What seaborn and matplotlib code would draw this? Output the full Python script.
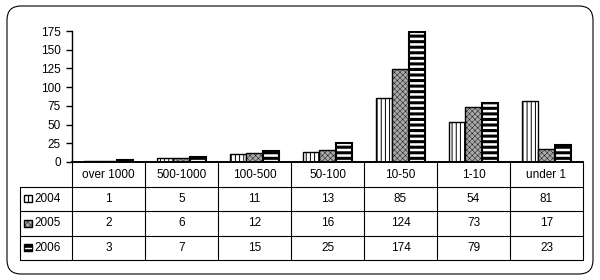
import numpy as np
import pandas as pd
import matplotlib
matplotlib.use("Agg")
import matplotlib.pyplot as plt
import seaborn as sns
from matplotlib.patches import FancyBboxPatch, Rectangle
from matplotlib.lines import Line2D

categories = ["over 1000", "500-1000", "100-500", "50-100", "10-50", "1-10", "under 1"]
years = ["2004", "2005", "2006"]
v2004 = [1, 5, 11, 13, 85, 54, 81]
v2005 = [2, 6, 12, 16, 124, 73, 17]
v2006 = [3, 7, 15, 25, 174, 79, 23]
yticks = [0, 25, 50, 75, 100, 125, 150, 175]

sns.set_theme(style="white")
plt.rcParams['font.family'] = ['Liberation Sans', 'DejaVu Sans']
plt.rcParams['font.size'] = 8.5
plt.rcParams['text.color'] = 'black'

W, H = 600, 280
fig = plt.figure(figsize=(6, 2.8), dpi=100)
fig.patch.set_facecolor("white")


def fx(px):
    return px / W


def fy(py):
    return 1 - py / H


x0, x1 = 72, 583
ytop, y0 = 31, 162
ax = fig.add_axes([fx(x0), fy(y0), fx(x1) - fx(x0), fy(ytop) - fy(y0)])

df = pd.DataFrame({
    "category": categories * 3,
    "year": sum([[y] * len(categories) for y in years], []),
    "value": v2004 + v2005 + v2006,
})

face = {"2004": "white", "2005": "#a9a9a9", "2006": "white"}
hatch = {"2004": "||||", "2005": "xxxxxx", "2006": "---"}
hlw = {"2004": 0.7, "2005": 0.3, "2006": 2.2}

sns.barplot(data=df, x="category", y="value", hue="year", order=categories,
            hue_order=years, width=0.67, gap=0, palette=[face[y] for y in years],
            edgecolor="black", linewidth=1.0, legend=False, ax=ax,
            saturation=1, errorbar=None)

for cont, yr in zip(ax.containers, years):
    for bar in cont:
        bar.set_hatch(hatch[yr])
        bar.set_edgecolor("black")
        bar.set_facecolor(face[yr])
        if hasattr(bar, "set_hatch_linewidth"):
            bar.set_hatch_linewidth(hlw[yr])
        if yr == "2006":
            bar.set_linewidth(1.5)

ax.set_xlim(-0.5, len(categories) - 0.5)
ax.set_ylim(0, 175)
ax.set_yticks(yticks)
ax.set_yticklabels([str(t) for t in yticks])
ax.set_xticks([])
ax.set_xlabel("")
ax.set_ylabel("")
ax.tick_params(axis="y", left=True, length=4, width=1, pad=4, colors="black", labelsize=8.5)
for s in ["top", "right"]:
    ax.spines[s].set_visible(False)
ax.spines["left"].set_color("black")
ax.spines["left"].set_linewidth(1.0)
ax.spines["bottom"].set_color("black")
ax.spines["bottom"].set_linewidth(1.4)
ax.patch.set_alpha(0)

# data table
tab = fig.add_axes([fx(x0), fy(260), fx(x1) - fx(x0), fy(162) - fy(260)])
tab.set_xlim(-0.5, len(categories) - 0.5)
tab.set_ylim(260, 162)
tab.axis("off")
unit = (x1 - x0) / len(categories)
lx = -0.5 - (x0 - 20) / unit
right = len(categories) - 0.5
rows = [187, 211, 236, 260]
lw = 0.8
for yv in rows:
    tab.add_line(Line2D([lx, right], [yv, yv], color="black", lw=lw, clip_on=False))
tab.add_line(Line2D([lx, lx], [187, 260], color="black", lw=lw, clip_on=False))
for i in range(len(categories) + 1):
    xv = -0.5 + i
    tab.add_line(Line2D([xv, xv], [162, 260], color="black", lw=lw, clip_on=False))

for i, c in enumerate(categories):
    tab.text(i, 175, c, ha="center", va="center", fontsize=8.5)
centers = [199, 223.5, 248]
for r, (yr, vals) in enumerate(zip(years, [v2004, v2005, v2006])):
    for i, v in enumerate(vals):
        tab.text(i, centers[r], str(v), ha="center", va="center", fontsize=8.5)
    kx = lx + 4 / unit
    kw = 8 / unit
    cy = centers[r]
    if yr == "2004":
        tab.add_patch(Rectangle((kx, cy - 3.5), kw, 7, facecolor="white", edgecolor="black",
                                lw=1.0, clip_on=False))
        tab.add_line(Line2D([kx + kw / 2, kx + kw / 2], [cy - 3.5, cy + 3.5], color="black",
                            lw=0.8, clip_on=False))
    elif yr == "2005":
        rect = Rectangle((kx, cy - 3.5), kw, 7, facecolor="#a9a9a9", edgecolor="black",
                         hatch="xxxxxx", lw=1.0, clip_on=False)
        if hasattr(rect, "set_hatch_linewidth"):
            rect.set_hatch_linewidth(0.3)
        tab.add_patch(rect)
    else:
        tab.add_patch(Rectangle((kx, cy - 3.5), kw, 7, facecolor="black", edgecolor="black",
                                lw=1.0, clip_on=False))
        tab.add_line(Line2D([kx + 0.15 * kw, kx + 0.85 * kw], [cy, cy], color="white",
                            lw=1.0, clip_on=False))
    tab.text(lx + 14 / unit, cy, yr, ha="left", va="center", fontsize=8.5)

# outer rounded border
border = FancyBboxPatch((7, 6), 586, 268, boxstyle="round,pad=0,rounding_size=14",
                        transform=None, facecolor="none", edgecolor="black", lw=0.8)
fig.add_artist(border)

fig.savefig("out.png", dpi=100)
